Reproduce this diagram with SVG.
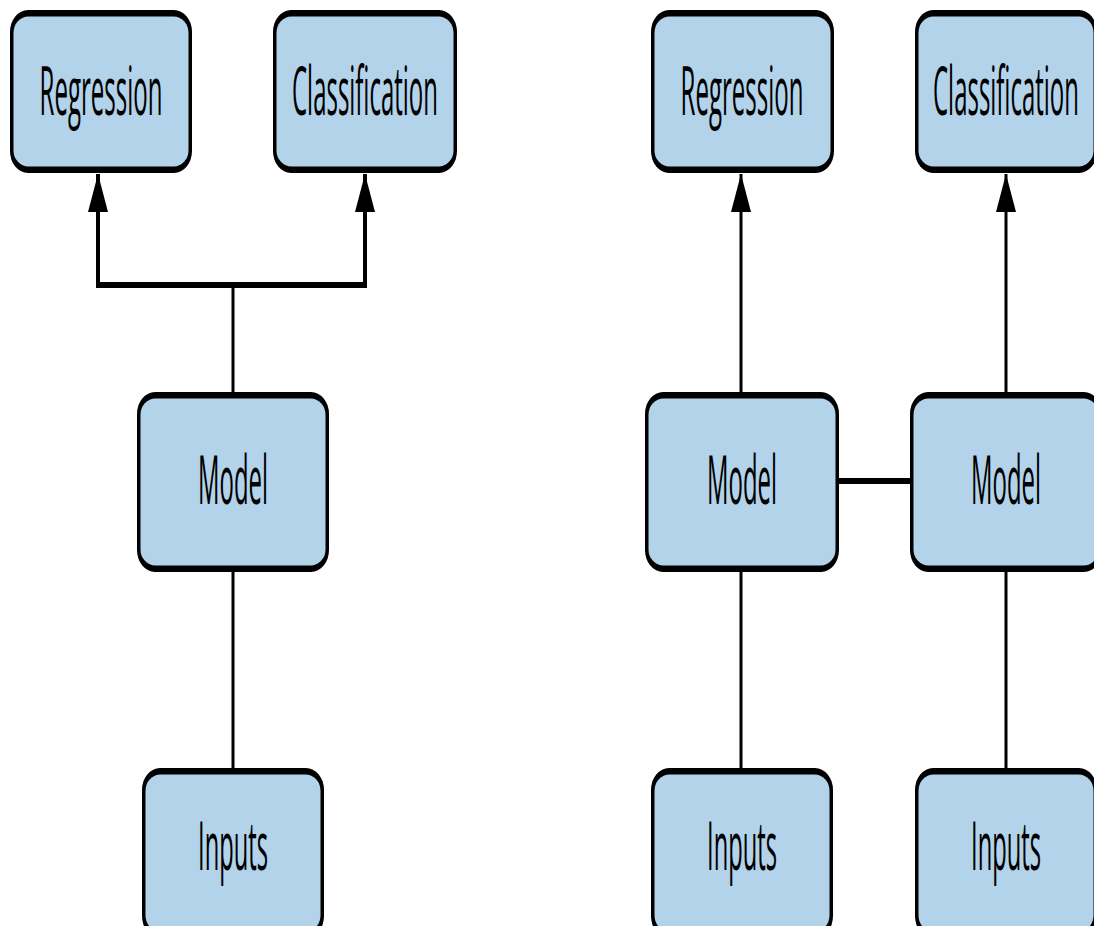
<svg xmlns="http://www.w3.org/2000/svg" width="1094" height="926" viewBox="0 0 1094 926">
<style>
.o{fill:#000}
.i{fill:#b2d3ea}
.t{font-family:"Open Sans","DejaVu Sans",sans-serif;font-size:68px;fill:#000;text-anchor:middle}
.c{stroke:#000;fill:none}
</style>
<defs>
<marker id="ah" viewBox="0 0 38 20" markerUnits="userSpaceOnUse" markerWidth="38" markerHeight="20" refX="38" refY="10" orient="auto">
<path d="M0,0 L38,10 L0,20 z" fill="#000"/>
</marker>
</defs>
<rect width="1094" height="926" fill="#fff"/>
<g id="connectors">
<line class="c" x1="98" y1="288" x2="98" y2="174" stroke-width="4" marker-end="url(#ah)"/>
<line class="c" x1="365" y1="288" x2="365" y2="174" stroke-width="4" marker-end="url(#ah)"/>
<line class="c" x1="96" y1="285" x2="367" y2="285" stroke-width="6"/>
<line class="c" x1="233" y1="285" x2="233" y2="393" stroke-width="3"/>
<line class="c" x1="233" y1="572" x2="233" y2="769" stroke-width="3"/>
<line class="c" x1="741" y1="393" x2="741" y2="174" stroke-width="3" marker-end="url(#ah)"/>
<line class="c" x1="1006" y1="393" x2="1006" y2="174" stroke-width="3" marker-end="url(#ah)"/>
<line class="c" x1="838" y1="481" x2="911" y2="481" stroke-width="6"/>
<line class="c" x1="741" y1="572" x2="741" y2="769" stroke-width="3"/>
<line class="c" x1="1006" y1="572" x2="1006" y2="769" stroke-width="3"/>
</g>
<g id="left-regression">
<rect class="o" x="10" y="10" width="182" height="163" rx="18" ry="22"/>
<rect class="i" x="13.5" y="16.5" width="175" height="150" rx="15" ry="16"/>
<text class="t" transform="translate(101,115) scale(0.35,1)" textLength="351" lengthAdjust="spacingAndGlyphs">Regression</text>
</g>
<g id="left-classification">
<rect class="o" x="273" y="10" width="184" height="163" rx="18" ry="22"/>
<rect class="i" x="276.5" y="16.5" width="177" height="150" rx="15" ry="16"/>
<text class="t" transform="translate(365,115) scale(0.35,1)" textLength="417" lengthAdjust="spacingAndGlyphs">Classification</text>
</g>
<g id="left-model">
<rect class="o" x="137" y="392" width="192" height="180" rx="18" ry="22"/>
<rect class="i" x="140.5" y="398.5" width="185" height="167" rx="15" ry="16"/>
<text class="t" transform="translate(233,504) scale(0.35,1)" textLength="200" lengthAdjust="spacingAndGlyphs">Model</text>
</g>
<g id="left-inputs">
<rect class="o" x="142" y="768" width="182" height="170" rx="18" ry="22"/>
<rect class="i" x="145.5" y="774.5" width="175" height="157" rx="15" ry="16"/>
<text class="t" transform="translate(233,870) scale(0.35,1)" textLength="200" lengthAdjust="spacingAndGlyphs">Inputs</text>
</g>
<g id="right-regression">
<rect class="o" x="651" y="10" width="183" height="163" rx="18" ry="22"/>
<rect class="i" x="654.5" y="16.5" width="176" height="150" rx="15" ry="16"/>
<text class="t" transform="translate(742,115) scale(0.35,1)" textLength="351" lengthAdjust="spacingAndGlyphs">Regression</text>
</g>
<g id="right-classification">
<rect class="o" x="915" y="10" width="182" height="163" rx="18" ry="22"/>
<rect class="i" x="918.5" y="16.5" width="175" height="150" rx="15" ry="16"/>
<text class="t" transform="translate(1006,115) scale(0.35,1)" textLength="417" lengthAdjust="spacingAndGlyphs">Classification</text>
</g>
<g id="right-model-1">
<rect class="o" x="645" y="392" width="194" height="180" rx="18" ry="22"/>
<rect class="i" x="648.5" y="398.5" width="187" height="167" rx="15" ry="16"/>
<text class="t" transform="translate(742,504) scale(0.35,1)" textLength="200" lengthAdjust="spacingAndGlyphs">Model</text>
</g>
<g id="right-model-2">
<rect class="o" x="910" y="392" width="192" height="180" rx="18" ry="22"/>
<rect class="i" x="913.5" y="398.5" width="185" height="167" rx="15" ry="16"/>
<text class="t" transform="translate(1006,504) scale(0.35,1)" textLength="200" lengthAdjust="spacingAndGlyphs">Model</text>
</g>
<g id="right-inputs-1">
<rect class="o" x="651" y="768" width="182" height="170" rx="18" ry="22"/>
<rect class="i" x="654.5" y="774.5" width="175" height="157" rx="15" ry="16"/>
<text class="t" transform="translate(742,870) scale(0.35,1)" textLength="200" lengthAdjust="spacingAndGlyphs">Inputs</text>
</g>
<g id="right-inputs-2">
<rect class="o" x="915" y="768" width="182" height="170" rx="18" ry="22"/>
<rect class="i" x="918.5" y="774.5" width="175" height="157" rx="15" ry="16"/>
<text class="t" transform="translate(1006,870) scale(0.35,1)" textLength="200" lengthAdjust="spacingAndGlyphs">Inputs</text>
</g>
</svg>
